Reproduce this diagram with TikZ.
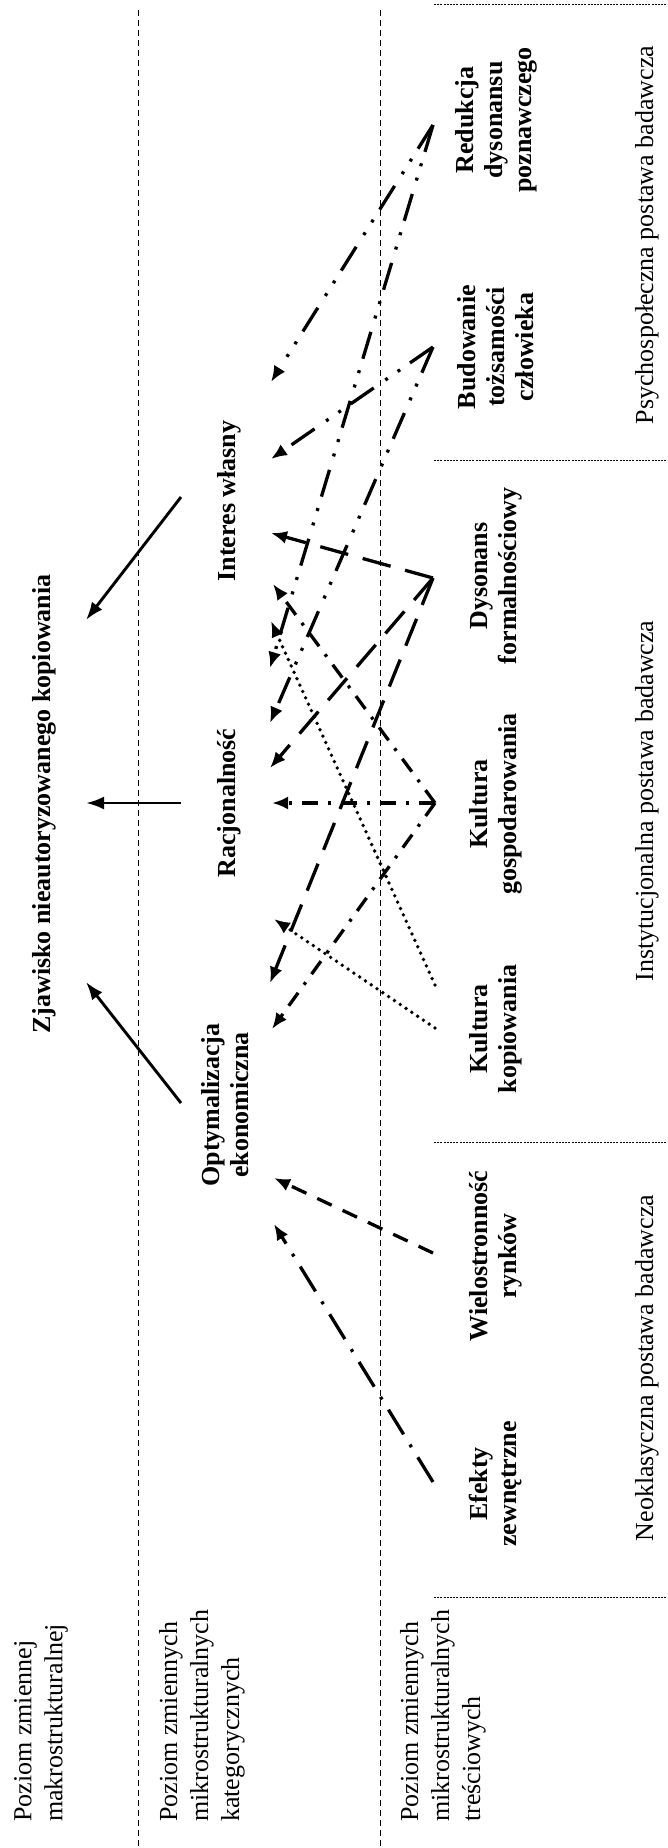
\documentclass[tikz,border=0pt]{standalone}
\usepackage{fontspec}
\setmainfont{Liberation Serif}
\usetikzlibrary{arrows.meta}
\tikzset{
  reg/.style={rotate=90, inner sep=0pt, font=\fontsize{26}{31}\selectfont, align=left, anchor=north west},
  bld/.style={rotate=90, inner sep=0pt, font=\fontsize{26}{29}\selectfont\bfseries, align=center},
  sect/.style={rotate=90, inner sep=0pt, font=\fontsize{26}{31}\selectfont},
  guide/.style={line width=0.9pt, dash pattern=on 6pt off 4pt},
  sepline/.style={line width=0.9pt, dash pattern=on 2pt off 1.2pt},
  conn/.style={line width=3.3pt, -{Latex[length=16pt,width=13pt]}},
  solidarr/.style={line width=2.9pt, -{Latex[length=18pt,width=13pt]}},
  dda/.style={conn, dash pattern=on 28pt off 12pt on 3pt off 12pt on 3pt off 14pt},
  lda/.style={conn, dash pattern=on 29pt off 15pt},
  mda/.style={conn, dash pattern=on 16pt off 12pt},
  dsh/.style={conn, dash pattern=on 16pt off 10pt on 3pt off 10pt},
  dal/.style={conn, dash pattern=on 29pt off 12pt on 3pt off 12pt},
  dts/.style={conn, line width=3.8pt, line cap=round, dash pattern=on 0pt off 7pt},
}
\begin{document}
\begin{tikzpicture}[x=1pt,y=-1pt]
\useasboundingbox (0,0) rectangle (667,1848);
% level guides
\draw[guide] (138,10) -- (138,1848);
\draw[guide] (380,10) -- (380,1848);
% section separators
\foreach \yy in {4,460,1142,1597} \draw[sepline] (434,\yy) -- (667,\yy);
% level labels
\node[reg] (lv1) at (14,1822) {Poziom zmiennej\\makrostrukturalnej};
\node[reg] (lv2) at (159,1822) {Poziom zmiennych\\mikrostrukturalnych\\kategorycznych};
\node[reg] (lv3) at (400,1822) {Poziom zmiennych\\mikrostrukturalnych\\treściowych};
% section labels
\node[sect] (ps) at (647,235) {Psychospołeczna postawa badawcza};
\node[sect] (in) at (647,801) {Instytucjonalna postawa badawcza};
\node[sect] (ne) at (647,1368) {Neoklasyczna postawa badawcza};
% macro level
\node[bld] (zj) at (44,804) {Zjawisko nieautoryzowanego kopiowania};
% category level
\node[bld] (ir) at (229,501) {Interes własny};
\node[bld] (rc) at (229,803) {Racjonalność};
\node[bld] (oe) at (225,1105) {Optymalizacja\\ekonomiczna};
% content level
\node[bld] (rd) at (496,120) {Redukcja\\dysonansu\\poznawczego};
\node[bld] (bt) at (496,347) {Budowanie\\tożsamości\\człowieka};
\node[bld] (df) at (496,576) {Dysonans\\formalnościowy};
\node[bld] (kg) at (496,804) {Kultura\\gospodarowania};
\node[bld] (kk) at (496,1029) {Kultura\\kopiowania};
\node[bld] (wr) at (496,1256) {Wielostronność\\rynków};
\node[bld] (ez) at (496,1484) {Efekty\\zewnętrzne};
% connector ends
\coordinate (ir-o) at (181,497);
\coordinate (rc-o) at (181,803);
\coordinate (oe-o) at (181,1103);
\coordinate (zj-a) at (86,620);
\coordinate (zj-b) at (86,803);
\coordinate (zj-c) at (86,982);
\coordinate (rd-s) at (433,125);
\coordinate (bt-s) at (433,347);
\coordinate (df-s) at (433,578);
\coordinate (kg-s) at (435,803);
\coordinate (kk-s1) at (435,985);
\coordinate (kk-s2) at (435,1028);
\coordinate (wr-s) at (433,1253);
\coordinate (ez-s) at (433,1482);
\coordinate (t1) at (271,382);
\coordinate (t3) at (271,459);
\coordinate (t5) at (271,533);
\coordinate (t9) at (273,584);
\coordinate (t11) at (271,621);
\coordinate (t2) at (270,668);
\coordinate (t4) at (270,723);
\coordinate (t6) at (270,768);
\coordinate (t8) at (272,803);
\coordinate (t12) at (274,919);
\coordinate (t7) at (270,983);
\coordinate (t10) at (272,1029);
\coordinate (t13) at (274,1178);
\coordinate (t14) at (274,1224);
% solid arrows to the phenomenon
\draw[solidarr] (ir-o) -- (zj-a);
\draw[solidarr] (rc-o) -- (zj-b);
\draw[solidarr] (oe-o) -- (zj-c);
% influences
\draw[dda] (rd-s) -- (t1);
\draw[dda] (rd-s) -- (t2);
\draw[dda] (bt-s) -- (t3);
\draw[dda] (bt-s) -- (t4);
\draw[lda] (df-s) -- (t5);
\draw[lda] (df-s) -- (t6);
\draw[lda] (df-s) -- (t7);
\draw[dsh] (kg-s) -- (t8);
\draw[dsh] (kg-s) -- (t9);
\draw[dsh] (kg-s) -- (t10);
\draw[dts] (kk-s1) -- (t11);
\draw[dts] (kk-s2) -- (t12);
\draw[mda] (wr-s) -- (t13);
\draw[dal] (ez-s) -- (t14);
\end{tikzpicture}
\end{document}
